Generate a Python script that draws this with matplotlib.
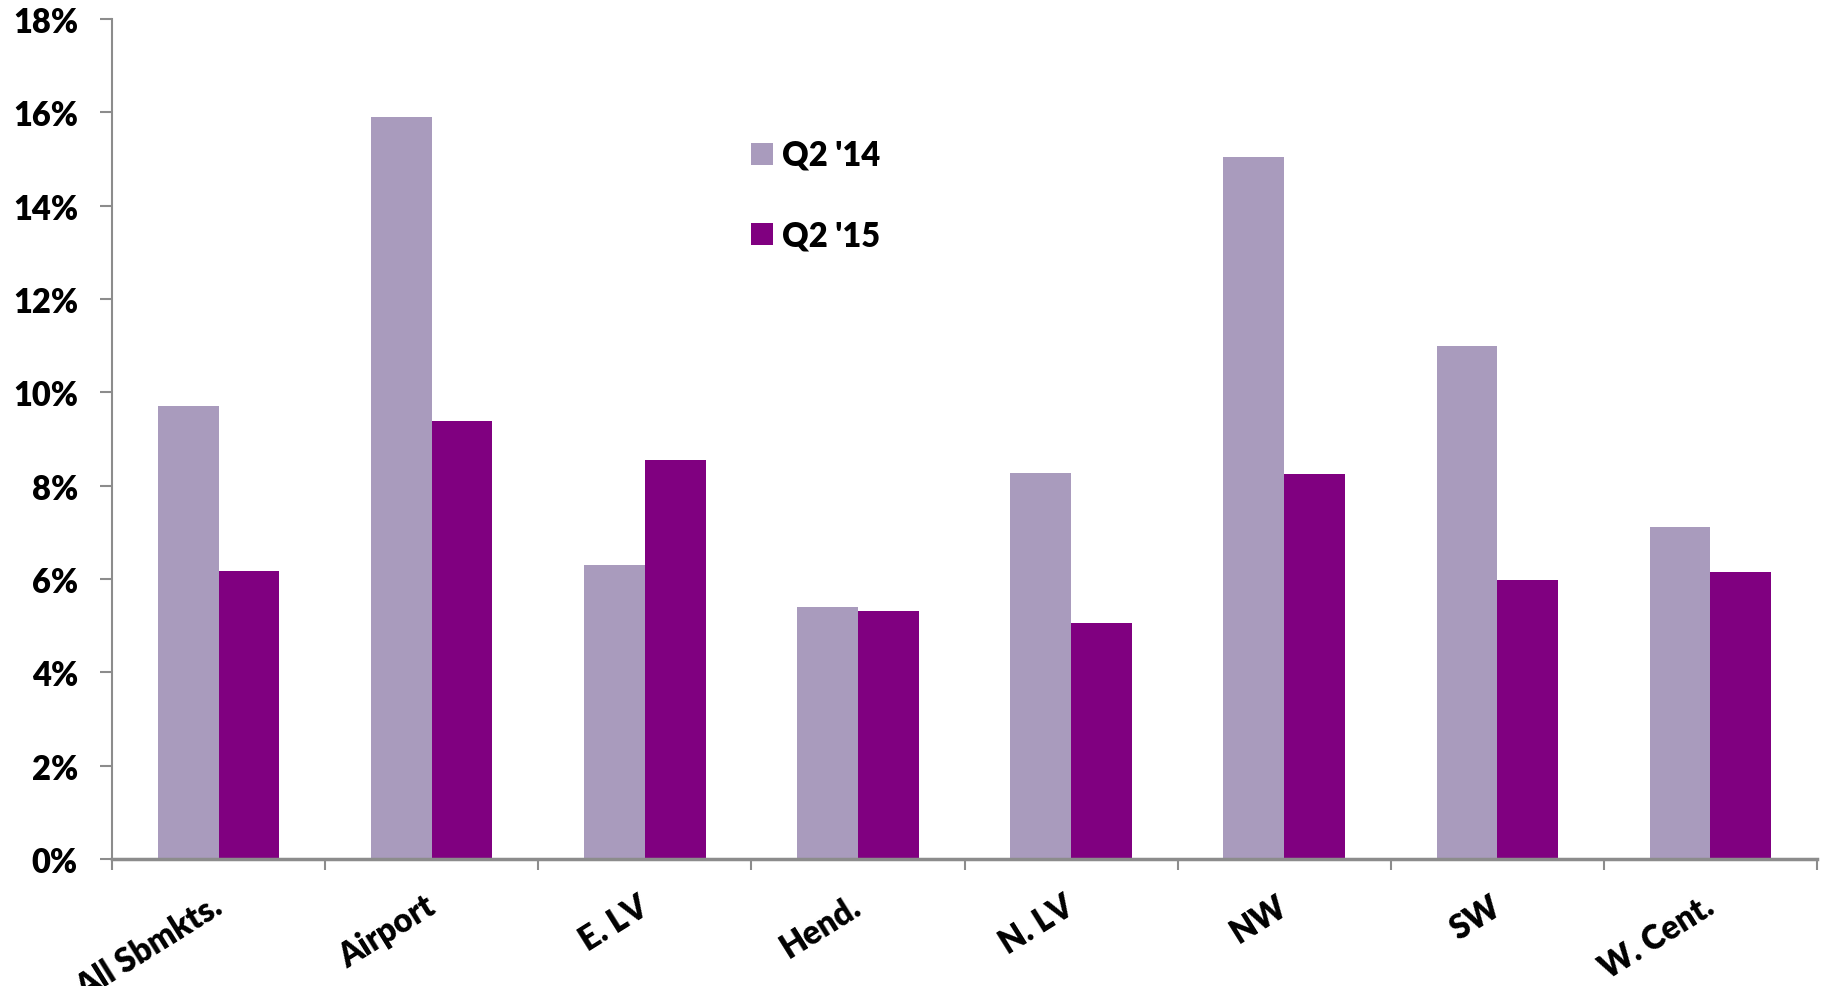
import matplotlib
matplotlib.use("Agg")
import matplotlib.pyplot as plt
import matplotlib.transforms as mtransforms
import numpy as np
from matplotlib.ticker import FuncFormatter, MultipleLocator

categories = ["All Sbmkts.", "Airport", "E. LV", "Hend.", "N. LV", "NW", "SW", "W. Cent."]
q2_14 = [9.70, 15.91, 6.30, 5.40, 8.27, 15.05, 11.00, 7.12]
q2_15 = [6.18, 9.38, 8.55, 5.32, 5.05, 8.25, 5.97, 6.15]
series_labels = ["Q2 '14", "Q2 '15"]
colors = ["#A99BBD", "#800080"]

FS = 23.5
WT = 'heavy'
plt.rcParams['font.family'] = ['Lato', 'DejaVu Sans']
plt.rcParams['font.weight'] = WT

fig = plt.figure(figsize=(18.3, 9.87), dpi=100)
ax = fig.add_axes([112/1830, 1-860/987, (1817-112)/1830, (860-20)/987])

x = np.arange(len(categories))
w = 0.285
b1 = ax.bar(x - w/2, q2_14, width=w, color=colors[0], label=series_labels[0])
b2 = ax.bar(x + w/2, q2_15, width=w, color=colors[1], label=series_labels[1])

ax.set_xlim(-0.5, len(categories) - 0.5)
ax.set_ylim(0, 18)
ax.yaxis.set_major_locator(MultipleLocator(2))
ax.yaxis.set_major_formatter(FuncFormatter(lambda v, p: f"{v:.0f}%"))

for s in ["top", "right"]:
    ax.spines[s].set_visible(False)
ax.spines["left"].set_color("#8C8C8C")
ax.spines["left"].set_linewidth(1.5)
ax.spines["bottom"].set_color("#8C8C8C")
ax.spines["bottom"].set_linewidth(2.5)

ax.tick_params(axis='y', direction='out', length=8.5, width=1.5, color="#8C8C8C",
               labelsize=FS, pad=16)
ax.set_xticks(np.arange(len(categories) + 1) - 0.5, minor=True)
ax.set_xticks(x)
ax.tick_params(axis='x', which='major', length=0, pad=22)
ax.tick_params(axis='x', which='minor', direction='out', length=8, width=1.5, color="#8C8C8C")
ax.set_xticklabels(categories, rotation=32, ha='right', rotation_mode='anchor', fontsize=FS,
                   fontweight=WT)
offset = mtransforms.ScaledTranslation(-8/100, 0, fig.dpi_scale_trans)
for lab in ax.get_xticklabels():
    lab.set_transform(lab.get_transform() + offset)
for lab in ax.get_yticklabels():
    lab.set_fontweight(WT)

leg = fig.legend(handles=[b1, b2], labels=series_labels, loc='upper left',
                 bbox_to_anchor=(751/1830, 1-140/987), frameon=False,
                 prop={'weight': WT, 'size': FS},
                 handlelength=0.66, handleheight=0.66, handletextpad=0.28,
                 labelspacing=1.48, borderpad=0, borderaxespad=0)

fig.savefig("out.png", dpi=100)
